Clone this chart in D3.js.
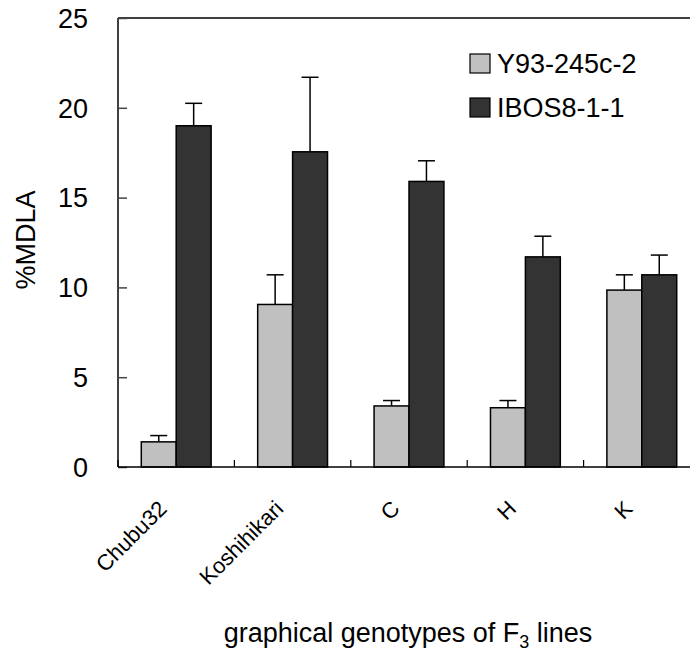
<!DOCTYPE html>
<html>
<head>
<meta charset="utf-8">
<script src="https://cdn.jsdelivr.net/npm/d3@7"></script>
<style>
  body { margin: 0; background: #fff; }
  text { font-family: "Liberation Sans", Arial, sans-serif; fill: #000; }
</style>
</head>
<body>
<svg id="chart"></svg>
<script>
const width = 690;
const height = 653;

// data
const categories = ["Chubu32", "Koshihikari", "C", "H", "K"];
const series = ["Y93-245c-2", "IBOS8-1-1"];
const y93Values = [1.4, 9.05, 3.4, 3.3, 9.85];
const y93Errors = [0.35, 1.65, 0.3, 0.4, 0.85];
const ibosValues = [19.0, 17.55, 15.9, 11.7, 10.7];
const ibosErrors = [1.25, 4.15, 1.15, 1.15, 1.1];
const yTicks = [0, 5, 10, 15, 20, 25];
const colors = ["#c0c0c0", "#333333"];

const margin = {top: 18, left: 118, right: 700, bottom: 467};

var svg = d3.select("#chart")
    .attr("width", width)
    .attr("height", height);

var y = d3.scaleLinear()
    .domain([0, 25])
    .range([margin.bottom, margin.top]);

var x0 = d3.scaleBand()
    .domain(categories)
    .range([margin.left, margin.right]);

var step = x0.step();
var x1 = d3.scaleBand()
    .domain(series)
    .range([step * 0.2, step * 0.8]);

var color = d3.scaleOrdinal().domain(series).range(colors);

const rows = [];
categories.forEach((c, i) => {
    rows.push({cat: c, s: series[0], v: y93Values[i], e: y93Errors[i]});
    rows.push({cat: c, s: series[1], v: ibosValues[i], e: ibosErrors[i]});
});

// top border
svg.append("line")
    .attr("x1", margin.left).attr("x2", margin.right)
    .attr("y1", margin.top).attr("y2", margin.top)
    .attr("stroke", "#000").attr("stroke-width", 1.5);

// error bars (upper only)
var err = svg.append("g").attr("stroke", "#000").attr("stroke-width", 1.5);
rows.forEach(d => {
    const cx = x0(d.cat) + x1(d.s) + x1.bandwidth() / 2;
    err.append("line")
        .attr("x1", cx).attr("x2", cx)
        .attr("y1", y(d.v)).attr("y2", y(d.v + d.e));
    err.append("line")
        .attr("x1", cx - 8.5).attr("x2", cx + 8.5)
        .attr("y1", y(d.v + d.e)).attr("y2", y(d.v + d.e));
});

// bars
svg.append("g")
    .selectAll("rect")
    .data(rows)
    .enter().append("rect")
    .attr("x", d => x0(d.cat) + x1(d.s))
    .attr("y", d => y(d.v))
    .attr("width", x1.bandwidth())
    .attr("height", d => y(0) - y(d.v))
    .attr("fill", d => color(d.s))
    .attr("stroke", "#000")
    .attr("stroke-width", 1.5);

// y axis
var yAxis = svg.append("g")
    .attr("transform", `translate(${margin.left},0)`)
    .call(d3.axisRight(y).tickValues(yTicks).tickSize(9).tickFormat(""));
yAxis.select(".domain").attr("stroke", "#000").attr("stroke-width", 1.5).attr("d", `M0,${margin.bottom}V${margin.top}`);
yAxis.selectAll(".tick line").attr("stroke", "#444").attr("stroke-width", 1.5);

svg.append("g")
    .selectAll("text")
    .data(yTicks)
    .enter().append("text")
    .attr("x", 88)
    .attr("y", d => y(d))
    .attr("dy", "0.36em")
    .attr("text-anchor", "end")
    .style("font-size", "27px")
    .text(d => d);

// x axis
svg.append("line")
    .attr("x1", margin.left).attr("x2", margin.right)
    .attr("y1", margin.bottom).attr("y2", margin.bottom)
    .attr("stroke", "#000").attr("stroke-width", 1.5);

svg.append("g")
    .selectAll("line")
    .data(categories)
    .enter().append("line")
    .attr("x1", d => x0(d)).attr("x2", d => x0(d))
    .attr("y1", margin.bottom).attr("y2", margin.bottom - 7)
    .attr("stroke", "#000").attr("stroke-width", 1.2);

svg.append("g")
    .selectAll("text")
    .data(categories)
    .enter().append("text")
    .attr("transform", d => `translate(${x0(d) + step / 2 - 8},510) rotate(-45)`)
    .attr("text-anchor", "end")
    .style("font-size", "22px")
    .text(d => d);

// axis titles
svg.append("text")
    .attr("transform", "translate(35,240) rotate(-90)")
    .attr("text-anchor", "middle")
    .style("font-size", "27px")
    .text("%MDLA");

var xt = svg.append("text")
    .attr("x", 408)
    .attr("y", 642)
    .attr("text-anchor", "middle")
    .style("font-size", "27px");
xt.append("tspan").text("graphical genotypes of F");
xt.append("tspan").attr("dy", 6).style("font-size", "18px").text("3");
xt.append("tspan").attr("dy", -6).text(" lines");

// legend
var legend = svg.append("g")
    .selectAll("g")
    .data(series)
    .enter().append("g")
    .attr("transform", (d, i) => `translate(470,${54 + i * 44})`);
legend.append("rect")
    .attr("width", 20).attr("height", 19)
    .attr("fill", d => color(d))
    .attr("stroke", "#000").attr("stroke-width", 1.2);
legend.append("text")
    .attr("x", 27).attr("y", 19)
    .style("font-size", "27px")
    .text(d => d);
</script>
</body>
</html>
